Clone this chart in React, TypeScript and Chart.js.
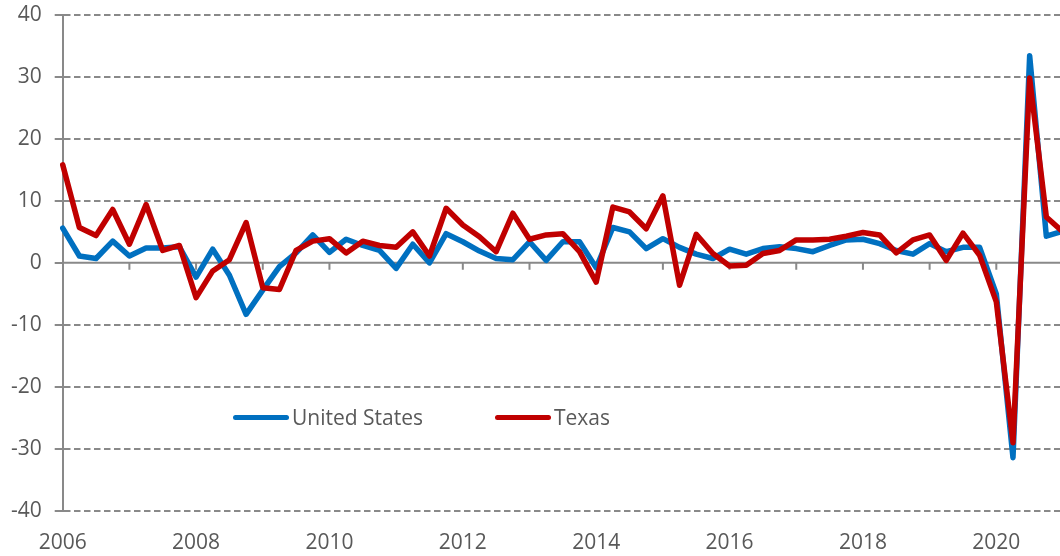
import React, { useEffect, useRef } from "react";
import { Chart, registerables } from "chart.js";

Chart.register(...registerables);

const years = [2006, 2007, 2008, 2009, 2010, 2011, 2012, 2013, 2014, 2015, 2016, 2017, 2018, 2019, 2020, 2021];
const quarterNames = ["Q1", "Q2", "Q3", "Q4"];

const usValues = [
  5.6, 1.1, 0.7, 3.5,
  1.1, 2.4, 2.4, 2.6,
  -2.3, 2.2, -2.0, -8.3,
  -4.4, -0.6, 1.6, 4.5,
  1.7, 3.8, 2.8, 2.0,
  -0.9, 3.0, 0.0, 4.7,
  3.4, 1.9, 0.7, 0.5,
  3.4, 0.4, 3.4, 3.4,
  -0.8, 5.7, 5.0, 2.3,
  3.9, 2.5, 1.4, 0.7,
  2.2, 1.4, 2.3, 2.6,
  2.3, 1.8, 2.8, 3.7,
  3.8, 3.1, 2.0, 1.4,
  3.1, 1.8, 2.5, 2.5,
  -5.0, -31.4, 33.4, 4.3,
  5.1,
];

const texasValues = [
  15.8, 5.7, 4.4, 8.6,
  3.0, 9.4, 2.0, 2.8,
  -5.6, -1.3, 0.5, 6.5,
  -4.0, -4.3, 2.0, 3.5,
  3.9, 1.6, 3.5, 2.8,
  2.5, 5.0, 1.1, 8.8,
  6.1, 4.2, 1.8, 8.0,
  3.8, 4.5, 4.7, 1.8,
  -3.1, 9.0, 8.2, 5.5,
  10.8, -3.6, 4.6, 1.5,
  -0.5, -0.4, 1.5, 2.0,
  3.7, 3.7, 3.8, 4.3,
  4.9, 4.5, 1.6, 3.7,
  4.5, 0.4, 4.8, 1.2,
  -6.3, -29.0, 29.8, 7.4,
  5.0,
];

const labelYears = ["2006", "2008", "2010", "2012", "2014", "2016", "2018", "2020"];
const yTicks = [-40, -30, -20, -10, 0, 10, 20, 30, 40];

const seriesNames = ["United States", "Texas"];
const seriesColors = ["#0070C0", "#C00000"];

const quarterLabels: string[] = [];
years.forEach((y) => quarterNames.forEach((q) => quarterLabels.push(`${y} ${q}`)));
const categories = quarterLabels.slice(0, usValues.length);

const AXIS_GRAY = "#898989";
const TEXT_GRAY = "#595959";
const FONT = "'Open Sans', sans-serif";

const zeroLinePlugin = {
  id: "zeroLineTicks",
  beforeDatasetsDraw(chart: any) {
    const { ctx, chartArea, scales } = chart;
    const x = scales.x;
    const y = scales.y;
    const y0 = y.getPixelForValue(0);
    ctx.save();
    ctx.strokeStyle = AXIS_GRAY;
    ctx.lineWidth = 2;
    ctx.setLineDash([]);
    ctx.beginPath();
    ctx.moveTo(chartArea.left, y0);
    ctx.lineTo(chartArea.right, y0);
    categories.forEach((c, i) => {
      if (c.endsWith("Q1") && i > 0) {
        const px = x.getPixelForValue(i);
        ctx.moveTo(px, y0);
        ctx.lineTo(px, y0 + 7);
      }
    });
    ctx.stroke();
    ctx.restore();
  },
};

const clearPadding = (s: any) => {
  s.paddingTop = 0;
  s.paddingBottom = 0;
  s.paddingLeft = 0;
  s.paddingRight = 0;
};

export default function App() {
  const canvasRef = useRef<HTMLCanvasElement | null>(null);

  useEffect(() => {
    if (!canvasRef.current) return;
    const chart = new Chart(canvasRef.current, {
      type: "line",
      data: {
        labels: categories,
        datasets: [
          {
            label: seriesNames[0],
            data: usValues,
            borderColor: seriesColors[0],
            backgroundColor: seriesColors[0],
            borderWidth: 5.5,
            pointRadius: 0,
            tension: 0,
            borderJoinStyle: "round",
            borderCapStyle: "round",
            order: 1,
          },
          {
            label: seriesNames[1],
            data: texasValues,
            borderColor: seriesColors[1],
            backgroundColor: seriesColors[1],
            borderWidth: 5.5,
            pointRadius: 0,
            tension: 0,
            borderJoinStyle: "round",
            borderCapStyle: "round",
            order: 0,
          },
        ],
      },
      options: {
        animation: false,
        responsive: false,
        maintainAspectRatio: false,
        layout: { padding: { top: 14.7, left: 0, right: 0, bottom: 0 } },
        plugins: {
          legend: { display: false },
          tooltip: { enabled: false },
        },
        scales: {
          x: {
            type: "category",
            offset: false,
            grid: { display: false, drawTicks: false },
            border: { display: false },
            ticks: {
              autoSkip: false,
              maxRotation: 0,
              minRotation: 0,
              padding: 19,
              color: TEXT_GRAY,
              font: { family: FONT, size: 21 },
              callback: (_v: any, i: number) => {
                const c = categories[i];
                if (!c || !c.endsWith("Q1")) return "";
                const yr = c.slice(0, 4);
                return labelYears.includes(yr) ? yr : "";
              },
            },
            afterFit: (s: any) => {
              s.height = 45;
              clearPadding(s);
            },
          },
          y: {
            min: -40,
            max: 40,
            afterBuildTicks: (s: any) => {
              s.ticks = yTicks.map((v) => ({ value: v }));
            },
            grid: {
              color: (ctx: any) => (ctx.tick && ctx.tick.value === 0 ? "rgba(0,0,0,0)" : AXIS_GRAY),
              lineWidth: 2,
              drawTicks: true,
              tickLength: 8,
              tickColor: AXIS_GRAY,
              tickWidth: 2,
              tickBorderDash: [],
            },
            border: { display: true, color: AXIS_GRAY, width: 2, dash: [6.5, 3.5] },
            ticks: {
              padding: 13,
              color: TEXT_GRAY,
              font: { family: FONT, size: 21 },
              callback: (v: any) => String(v),
            },
            afterFit: (s: any) => {
              s.width = 62.7;
              clearPadding(s);
            },
          },
        },
      },
      plugins: [zeroLinePlugin],
    });
    return () => chart.destroy();
  }, []);

  const legendItem = (i: number, left: number) => (
    <div
      key={i}
      style={{
        position: "absolute",
        left,
        top: 404,
        height: 26,
        display: "flex",
        alignItems: "center",
        fontFamily: FONT,
        fontSize: 21,
        color: TEXT_GRAY,
        whiteSpace: "nowrap",
      }}
    >
      <span
        style={{
          display: "inline-block",
          width: 56,
          height: 5,
          borderRadius: 3,
          background: seriesColors[i],
          marginRight: 3,
        }}
      />
      <span>{seriesNames[i]}</span>
    </div>
  );

  return (
    <div
      style={{
        position: "fixed",
        left: 0,
        top: 0,
        width: 1060,
        height: 556,
        overflow: "hidden",
        background: "#fff",
      }}
    >
      <canvas ref={canvasRef} width={1063} height={556} style={{ display: "block", width: 1063, height: 556 }} />
      {legendItem(0, 233)}
      {legendItem(1, 495)}
    </div>
  );
}
